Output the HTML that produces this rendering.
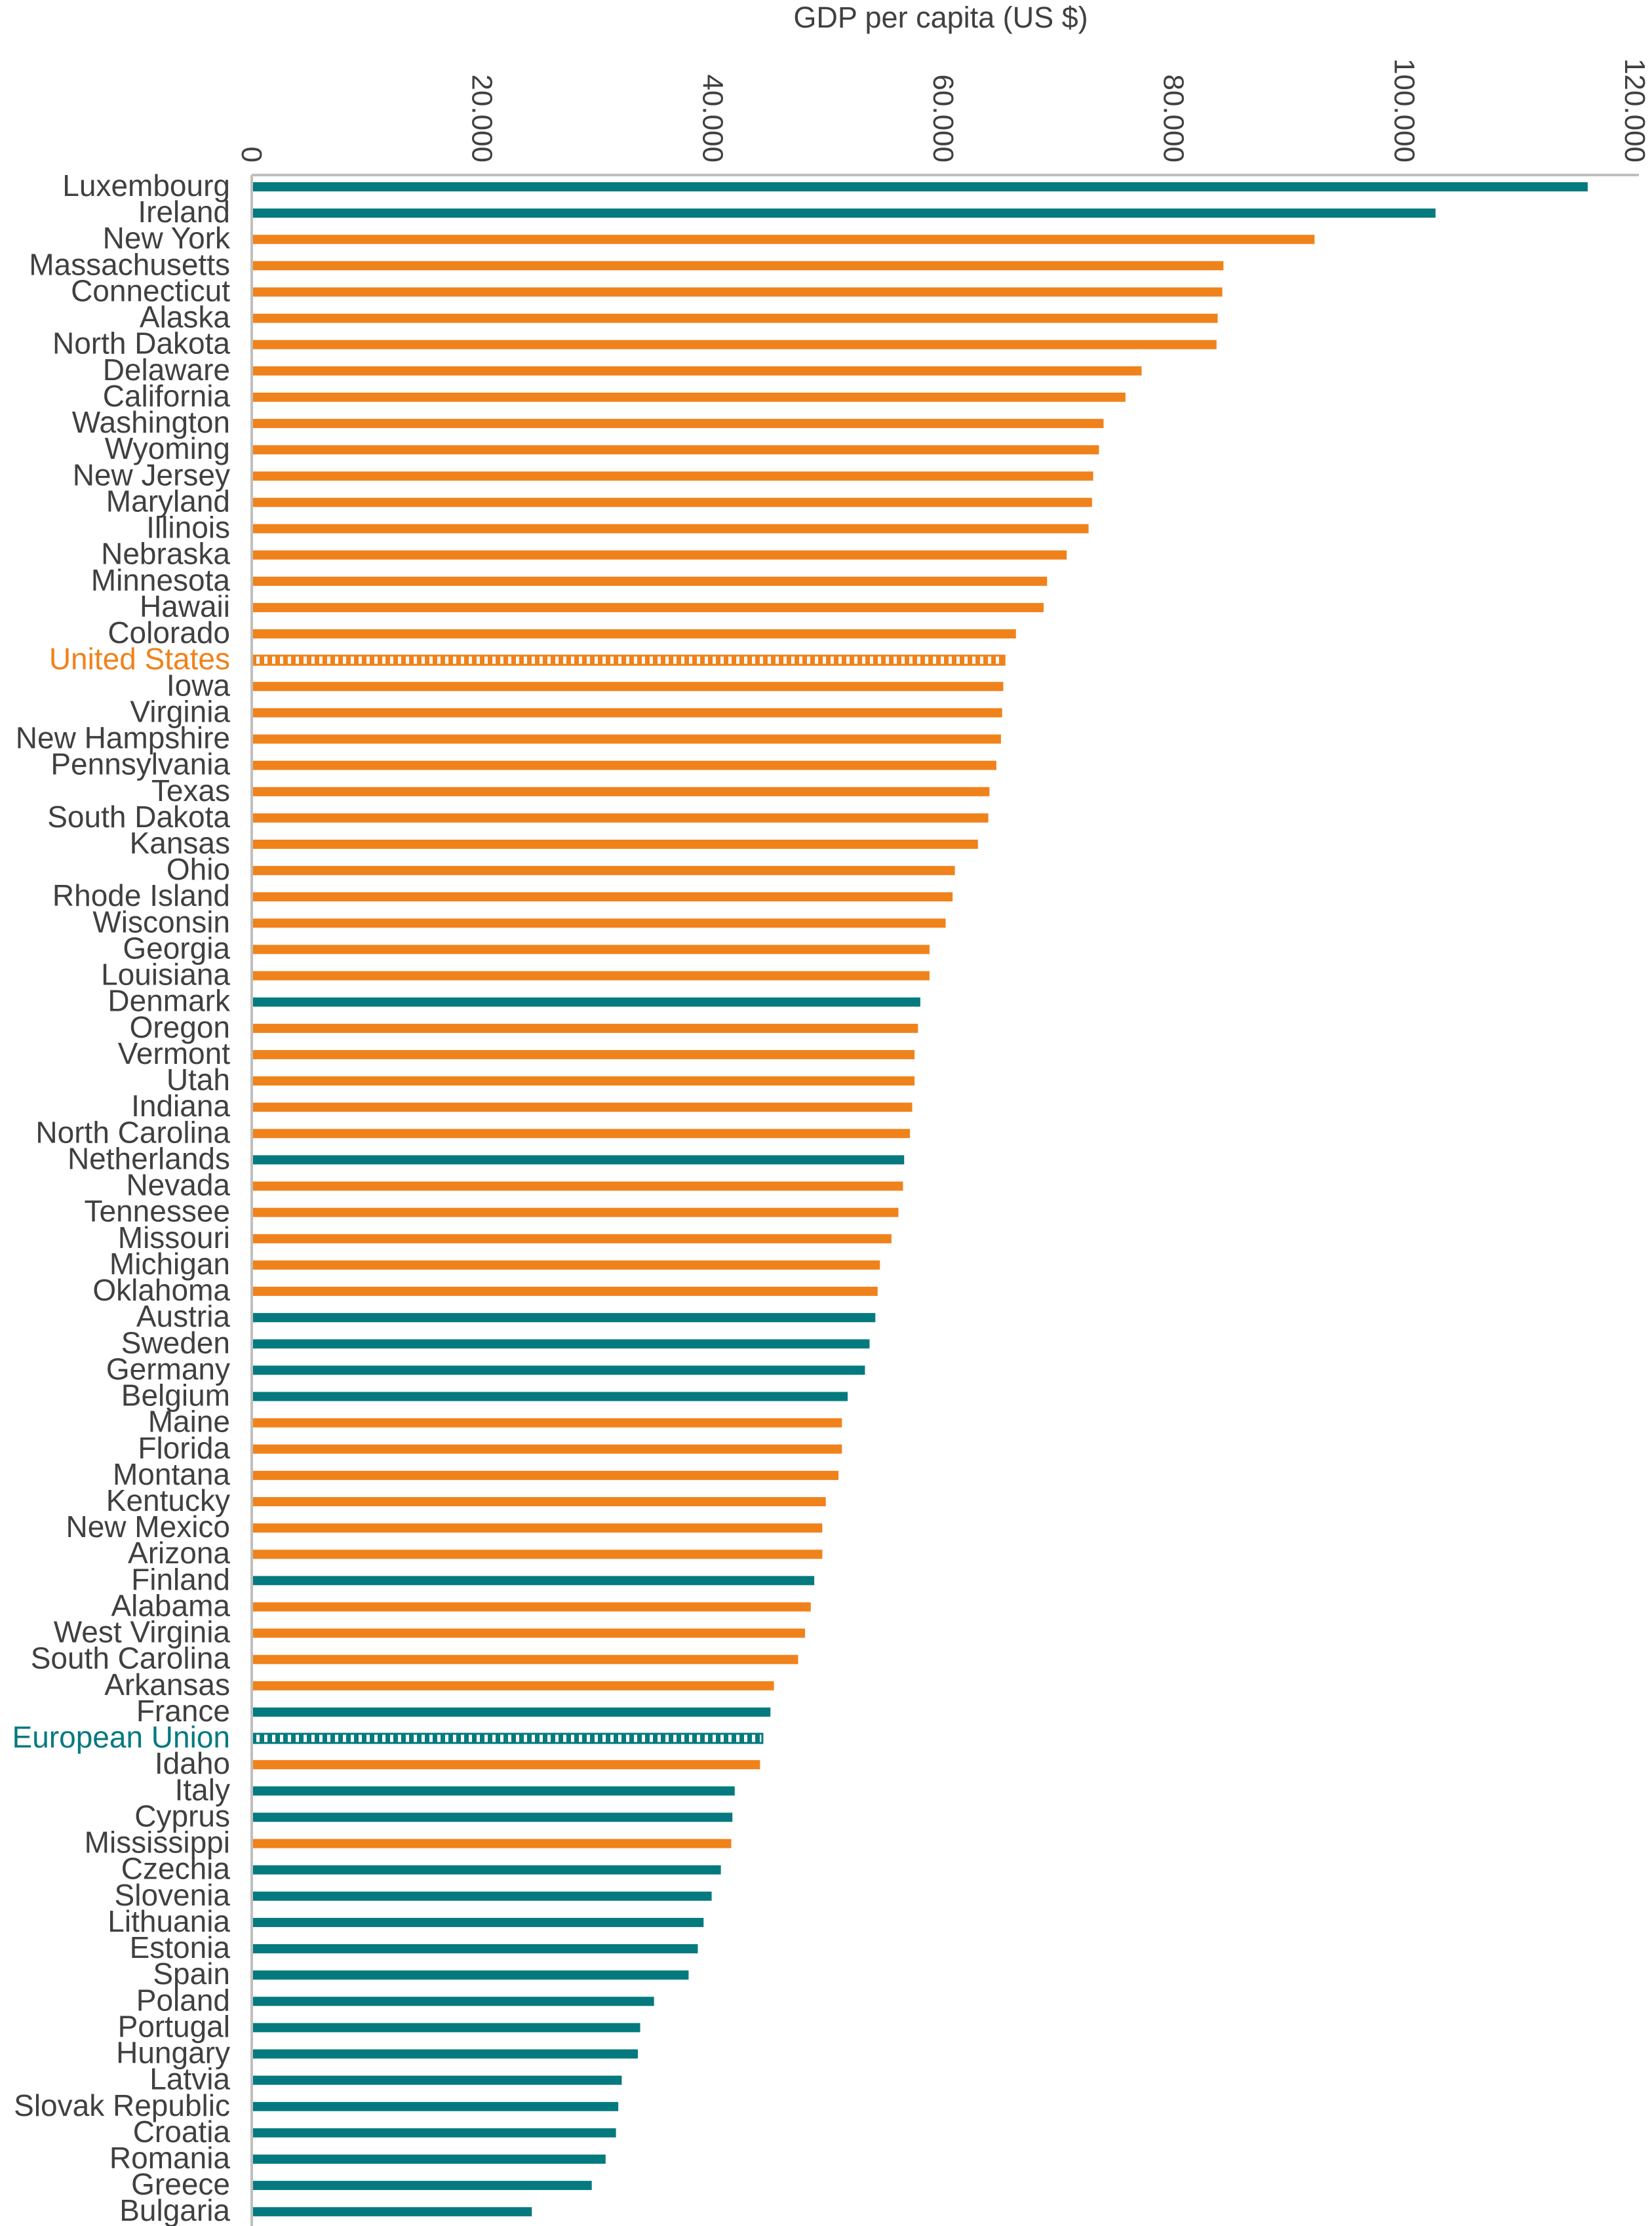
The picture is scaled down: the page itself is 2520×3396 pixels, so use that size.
<!DOCTYPE html>
<html><head><meta charset="utf-8"><style>
html,body{margin:0;padding:0;background:#fff}
svg{display:block}
text{font-family:"Liberation Sans",sans-serif;fill:#404040}
</style></head><body>
<svg id="chart" width="2520" height="3396" viewBox="0 0 2520 3396" xmlns="http://www.w3.org/2000/svg">
<defs>
<pattern id="stripeO" width="12" height="20" patternUnits="userSpaceOnUse"><rect width="12" height="20" fill="#fff"/><rect width="7" height="20" fill="#f0821b"/></pattern>
<pattern id="stripeT" width="12" height="20" patternUnits="userSpaceOnUse"><rect width="12" height="20" fill="#fff"/><rect width="7" height="20" fill="#047a7f"/></pattern>
</defs>
<text x="1435" y="42" font-size="45" text-anchor="middle">GDP per capita (US $)</text>
<g id="ticks"></g>
<g id="bars"></g>
<line x1="384" y1="267" x2="2500" y2="267" stroke="#bfbfbf" stroke-width="4"/>
<line x1="384" y1="267" x2="384" y2="3396" stroke="#bfbfbf" stroke-width="4"/>
</svg>
<script>
const categories=["Luxembourg","Ireland","New York","Massachusetts","Connecticut","Alaska","North Dakota","Delaware","California","Washington","Wyoming","New Jersey","Maryland","Illinois","Nebraska","Minnesota","Hawaii","Colorado","United States","Iowa","Virginia","New Hampshire","Pennsylvania","Texas","South Dakota","Kansas","Ohio","Rhode Island","Wisconsin","Georgia","Louisiana","Denmark","Oregon","Vermont","Utah","Indiana","North Carolina","Netherlands","Nevada","Tennessee","Missouri","Michigan","Oklahoma","Austria","Sweden","Germany","Belgium","Maine","Florida","Montana","Kentucky","New Mexico","Arizona","Finland","Alabama","West Virginia","South Carolina","Arkansas","France","European Union","Idaho","Italy","Cyprus","Mississippi","Czechia","Slovenia","Lithuania","Estonia","Spain","Poland","Portugal","Hungary","Latvia","Slovak Republic","Croatia","Romania","Greece","Bulgaria"];
const values=[115900,102700,92200,84300,84200,83800,83700,77200,75800,73900,73500,73000,72900,72600,70700,69000,68700,66300,65300,65200,65100,65000,64600,64000,63900,63000,61000,60800,60200,58800,58800,58000,57800,57500,57500,57300,57100,56600,56500,56100,55500,54500,54300,54100,53600,53200,51700,51200,51200,50900,49800,49500,49500,48800,48500,48000,47400,45300,45000,44300,44100,41900,41700,41600,40700,39900,39200,38700,37900,34900,33700,33500,32100,31800,31600,30700,29500,24300];
const groups=["eu","eu","us","us","us","us","us","us","us","us","us","us","us","us","us","us","us","us","usavg","us","us","us","us","us","us","us","us","us","us","us","us","eu","us","us","us","us","us","eu","us","us","us","us","us","eu","eu","eu","eu","us","us","us","us","us","us","eu","us","us","us","us","eu","euavg","us","eu","eu","us","eu","eu","eu","eu","eu","eu","eu","eu","eu","eu","eu","eu","eu","eu"];
const tickValues=[0,20000,40000,60000,80000,100000,120000];
const tickLabels=["0","20.000","40.000","60.000","80.000","100.000","120.000"];

const NS="http://www.w3.org/2000/svg";
const x0=384,x1=2494,vmax=120000;
function xs(v){return x0+v/vmax*(x1-x0);}
function ys(i){return 285+i*40.12;}
const tg=document.getElementById('ticks');
tickValues.forEach((v,i)=>{
  const t=document.createElementNS(NS,'text');
  const x=xs(v);
  t.setAttribute('transform','translate('+(x-15)+',248) rotate(90)');
  t.setAttribute('font-size','44');
  t.setAttribute('text-anchor','end');
  t.textContent=tickLabels[i];
  
  
  tg.appendChild(t);
});
const bg=document.getElementById('bars');
categories.forEach((c,i)=>{
  const y=ys(i);
  const g=groups[i];
  const col=(g==='eu'||g==='euavg')?'#047a7f':'#f0821b';
  const r=document.createElementNS(NS,'rect');
  r.setAttribute('x',x0+2);
  r.setAttribute('y',y-7);
  r.setAttribute('width',xs(values[i])-x0-2);
  r.setAttribute('height',14);
  if(g==='usavg'||g==='euavg'){
    r.setAttribute('fill',g==='usavg'?'url(#stripeO)':'url(#stripeT)');
    r.setAttribute('stroke',col);
    r.setAttribute('stroke-width','3');
  } else r.setAttribute('fill',col);
  
  
  bg.appendChild(r);
  const t=document.createElementNS(NS,'text');
  t.setAttribute('x',351);
  t.setAttribute('y',y+14);
  t.setAttribute('font-size','46');
  t.setAttribute('text-anchor','end');
  if(g==='usavg')t.setAttribute('style','fill:#f0821b');
  if(g==='euavg')t.setAttribute('style','fill:#047a7f');
  t.textContent=c;
  
  
  bg.appendChild(t);
});
</script>
</body></html>
